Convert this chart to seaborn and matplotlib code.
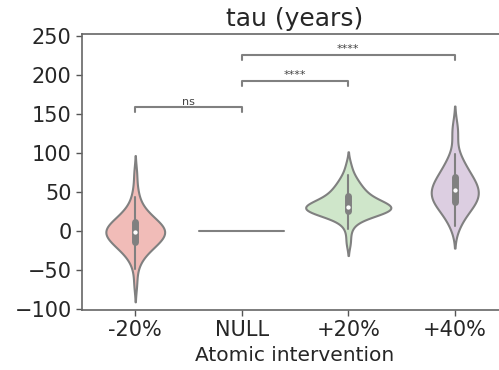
import matplotlib
matplotlib.use("Agg")
import matplotlib.pyplot as plt
import numpy as np
import pandas as pd
import seaborn as sns

categories = ["-20%", "NULL", "+20%", "+40%"]

minus20 = [-68, -48, -38, -33, -29, -26, -24, -22, -20, -18, -17, -16, -15, -13,
           -12, -10, -9, -8, -7, -6, -5, -4, -3, -2, -1, -1, 0, 1, 2, 3, 4, 5, 6,
           7, 8, 10, 11, 12, 13, 15, 17, 19, 21, 23, 26, 30, 35, 43, 54, 74]
null = [0] * 40
plus20 = [-14, 3, 12, 17, 20, 22, 23, 24, 25, 26, 26, 27, 27, 28, 28, 29, 29, 30,
          30, 31, 31, 32, 33, 34, 35, 36, 37, 39, 41, 43, 45, 47, 49, 51, 53, 56,
          59, 63, 67, 72, 84]
plus40 = [6, 12, 18, 24, 28, 30, 32, 34, 36, 38, 40, 42, 44, 45, 47, 49, 50, 52,
          54, 56, 58, 60, 62, 64, 66, 68, 71, 74, 78, 82, 86, 91, 98, 124, 132]

palette = ["#fbb4ae", "#b3cde3", "#ccebc5", "#decbe4"]

pairs = [("-20%", "NULL"), ("NULL", "+20%"), ("NULL", "+40%")]
pair_labels = ["ns", "****", "****"]
bracket_levels = [152, 186, 219]
bracket_tip = 6

groups = [minus20, null, plus20, plus40]
df = pd.DataFrame({
    "group": np.concatenate([[c] * len(g) for c, g in zip(categories, groups)]),
    "value": np.concatenate([np.asarray(g, dtype=float) for g in groups]),
})

sns.set_style("white")
fig = plt.figure(figsize=(4.99, 3.70), dpi=100)
ax = fig.add_axes([82 / 499, 60 / 370, 426 / 499, 276 / 370])

sns.violinplot(data=df, x="group", y="value", order=categories, hue="group",
               hue_order=categories, palette=palette, legend=False,
               saturation=0.75, linewidth=1.5, linecolor="#808080",
               density_norm="area", common_norm=True,
               inner_kws=dict(box_width=5, whis_width=1.5, marker="."),
               ax=ax)

line_c = "#808080"
for (a, b), lab, lev in zip(pairs, pair_labels, bracket_levels):
    xa, xb = categories.index(a), categories.index(b)
    ax.plot([xa, xa, xb, xb], [lev, lev + bracket_tip, lev + bracket_tip, lev],
            color=line_c, lw=1.5, clip_on=False)
    ax.text((xa + xb) / 2, lev + bracket_tip + 1, lab, ha="center", va="bottom",
            fontsize=8, color="#444444")

ax.set_ylim(-101, 252)
ax.set_xlim(-0.5, 3.5)
ax.set_yticks([-100, -50, 0, 50, 100, 150, 200, 250])
ax.tick_params(labelsize=15, length=4, width=1, color="#555555")
ax.set_xlabel("Atomic intervention", fontsize=14.5)
ax.set_ylabel("")
ax.set_title("tau (years)", fontsize=18)
for s in ax.spines.values():
    s.set_color("#666666")
    s.set_linewidth(1.2)
ax.spines["right"].set_visible(False)
ax.tick_params(axis="both", which="both", bottom=True, left=True)

fig.savefig("out.png", dpi=100)
